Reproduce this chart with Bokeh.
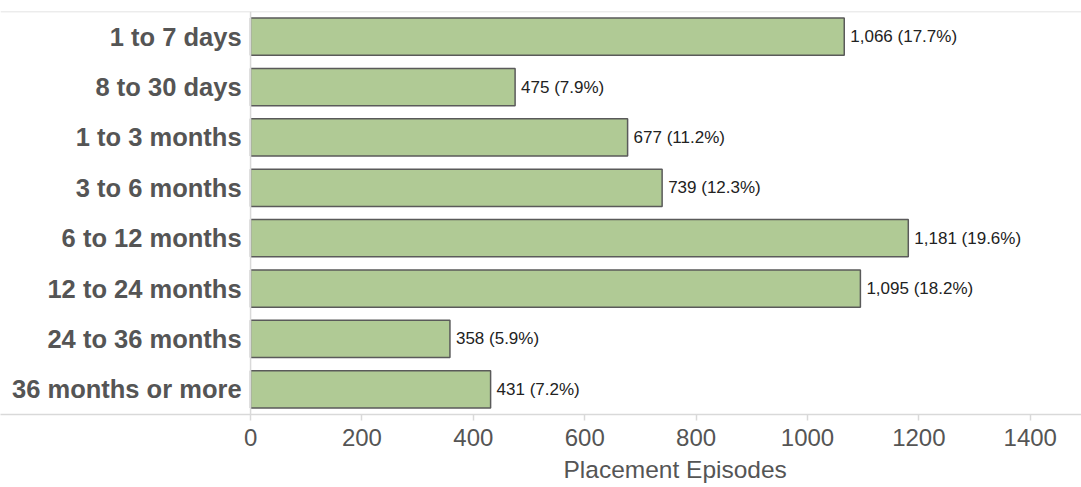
from bokeh.plotting import figure
from bokeh.models import ColumnDataSource, Range1d, FactorRange, Span, FixedTicker, Title
from bokeh.core.properties import value
from bokeh.embed import file_html
from bokeh.resources import INLINE

categories = ["1 to 7 days", "8 to 30 days", "1 to 3 months", "3 to 6 months",
              "6 to 12 months", "12 to 24 months", "24 to 36 months", "36 months or more"]
episodes = [1066, 475, 677, 739, 1181, 1095, 358, 431]
percents = [17.7, 7.9, 11.2, 12.3, 19.6, 18.2, 5.9, 7.2]
x_ticks = [0, 200, 400, 600, 800, 1000, 1200, 1400]

labels = ["{:,} ({:.1f}%)".format(v, pc) for v, pc in zip(episodes, percents)]
src = ColumnDataSource(dict(cat=categories, val=episodes, lab=labels,
                            zero=[0] * len(categories)))

GRAY = "#d9d9d9"
FONT = "Liberation Sans"

p = figure(width=1081, height=487, output_backend="svg", toolbar_location=None,
           x_range=Range1d(-449, 1492), y_range=FactorRange(*reversed(categories)),
           min_border_left=0, min_border_right=0, min_border_top=11, min_border_bottom=0)
p.outline_line_color = None
p.xgrid.grid_line_color = None
p.ygrid.grid_line_color = None
p.yaxis.visible = False

ax = p.xaxis[0]
ax.ticker = FixedTicker(ticks=x_ticks)
ax.axis_line_color = GRAY
ax.axis_line_width = 1.5
ax.major_tick_line_color = GRAY
ax.major_tick_line_width = 1.5
ax.major_tick_out = 6
ax.major_tick_in = 0
ax.minor_tick_line_color = None
ax.major_label_text_font = FONT
ax.major_label_text_font_size = "24px"
ax.major_label_text_color = "#555555"
ax.major_label_standoff = 8

p.add_layout(Span(location=0, dimension="height", line_color=GRAY, line_width=1.5))
p.add_layout(Span(location=len(categories), dimension="width", line_color=GRAY, line_width=1.5))

p.hbar(y="cat", left="zero", right="val", height=0.74, source=src,
       fill_color="#b0ca95", line_color="#5a5a5a", line_width=1.5)

p.text(x="zero", y="cat", text="cat", source=src, x_offset=-9,
       text_align="right", text_baseline="middle", text_font=value(FONT),
       text_font_style="bold", text_font_size="25.5px", text_color="#555555")
p.text(x="val", y="cat", text="lab", source=src, x_offset=6,
       text_align="left", text_baseline="middle", text_font=value(FONT),
       text_font_size="17px", text_color="#222222")

p.add_layout(Title(text="Placement Episodes", align="left", offset=563,
                   text_font=FONT, text_font_size="24.5px", text_font_style="normal",
                   text_color="#555555", standoff=10), "below")

open("out.html", "w").write(file_html(p, INLINE))
